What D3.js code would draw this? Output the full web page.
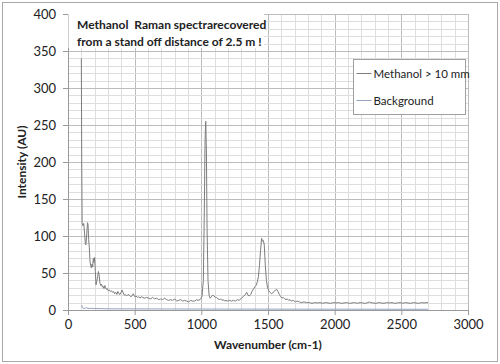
<!DOCTYPE html>
<html><head><meta charset="utf-8">
<script src="https://cdn.jsdelivr.net/npm/d3@7"></script>
<style>body{margin:0;background:#fff}svg{display:block}text{font-family:Lato,"Liberation Sans",sans-serif;fill:#222}</style>
</head><body><svg id="c" width="500" height="364"></svg>
<script>
const titleLines = ["Methanol  Raman spectrarecovered", "from a stand off distance of 2.5 m !"];
const xLabel = "Wavenumber (cm-1)";
const yLabel = "Intensity (AU)";
const seriesNames = ["Methanol > 10 mm", "Background"];
const xTicks = [0, 500, 1000, 1500, 2000, 2500, 3000];
const yTicks = [0, 50, 100, 150, 200, 250, 300, 350, 400];

const methanolX = [100,103,106,112,118,124,130,134,140,146,150,155,160,165,170,175,180,185,190,195,200,205,210,215,222,228,233,240,246,252,258,264,270,276,282,288,295,302,310,318,326,334,342,350,358,366,374,382,390,398,406,414,422,430,440,450,460,470,480,490,500,510,520,530,540,550,560,575,590,605,620,635,650,665,680,695,710,725,740,755,770,785,800,815,830,845,860,875,890,905,920,935,950,965,975,990,1005,1015,1022,1028,1033,1038,1043,1050,1058,1066,1075,1085,1095,1105,1115,1125,1135,1145,1155,1165,1175,1185,1195,1210,1225,1240,1255,1270,1285,1300,1315,1330,1340,1350,1360,1370,1380,1390,1400,1410,1420,1428,1436,1444,1452,1458,1465,1472,1480,1488,1496,1505,1515,1525,1535,1545,1555,1565,1575,1585,1595,1605,1615,1625,1635,1645,1655,1665,1675,1690,1705,1720,1735,1750,1770,1790,1810,1830,1850,1870,1890,1910,1930,1950,1970,1990,2010,2030,2050,2070,2090,2110,2130,2150,2170,2190,2210,2230,2250,2260,2270,2290,2310,2330,2350,2370,2390,2410,2430,2450,2470,2490,2510,2530,2550,2570,2590,2610,2630,2650,2670,2700];
const methanolY = [340,200,117,114,117,104,90,88,100,118,116,95,84,66,60,57,62,58,70,64,71,52,34,38,45,52,48,36,33,35,31,32,29,33,30,28,29,26,27,25,26,24,25,22,24,21,25,22,21,24,27,23,20,21,19,21,20,18,19,22,18,19,17,18,16,18,17,16,17,16,15,17,15,16,14,15,14,16,14,13,14,13,15,12,13,14,12,13,12,11,13,12,12,14,13,14,18,40,130,230,255,215,110,40,20,16,18,20,19,17,17,15,14,15,13,14,12,13,12,13,12,13,12,14,13,16,18,21,24,20,19,21,25,28,31,33,38,45,60,80,97,93,94,88,60,40,31,26,24,22,23,25,27,28,25,21,18,16,17,15,14,15,13,14,12,13,11,12,11,10,11,10,10,9,10,9.5,10,9,10,9.5,9,10,9.5,10,9,9.5,10,9,9.5,10,9,10,9.5,9,10,11,10,9.5,9,10,9.5,9,10,9.5,10,9,9.5,10,9,10,9.5,9,10,9.5,9,10,9.5,10];
const backgroundX = [100,104,108,114,120,130,140,150,170,200,250,300,400,500,700,1000,1300,1500,1800,2100,2400,2700];
const backgroundY = [5,6,3,2.5,2,2.5,3,2,2.2,2,1.8,1.6,1.5,1.5,1.4,1.3,1.2,1.2,1.1,1.1,1,1];

const svg = d3.select("#c");
const m = {l:68, t:14, r:32, b:54};
const W = 500 - m.l - m.r, H = 364 - m.t - m.b;
svg.append("rect").attr("x",2.5).attr("y",2.5).attr("width",495).attr("height",359).attr("fill","#fff").attr("stroke","#a8a8a8");
const g = svg.append("g").attr("transform",`translate(${m.l},${m.t})`);
const x = d3.scaleLinear().domain([0,3000]).range([0,W]);
const y = d3.scaleLinear().domain([0,400]).range([H,0]);

g.append("g").selectAll("line").data(d3.range(0,3001,100)).join("line")
  .attr("x1",d=>Math.round(x(d))+0.5).attr("x2",d=>Math.round(x(d))+0.5).attr("y1",0).attr("y2",H)
  .attr("stroke",d=>d%500===0?"#bcbcbc":"#dedede");
g.append("g").selectAll("line").data(d3.range(0,401,10)).join("line")
  .attr("y1",d=>Math.round(y(d))+0.5).attr("y2",d=>Math.round(y(d))+0.5).attr("x1",0).attr("x2",W)
  .attr("stroke",d=>d%50===0?"#bcbcbc":"#dedede");

const ya = g.append("g").call(d3.axisLeft(y).tickValues(yTicks).tickFormat(d3.format("d")).tickSize(5).tickPadding(7));
const xa = g.append("g").attr("transform",`translate(0,${H})`).call(d3.axisBottom(x).tickValues(xTicks).tickFormat(d3.format("d")).tickSize(5).tickPadding(5));
[ya,xa].forEach(a=>{a.select(".domain").attr("stroke","#9a9a9a");a.selectAll(".tick line").attr("stroke","#9a9a9a");
  a.selectAll("text").attr("font-size",13).attr("fill","#222").style("font-family","Lato,'Liberation Sans',sans-serif");});

g.append("rect").attr("x",0.5).attr("y",0).attr("width",x(1465)).attr("height",34).attr("fill","#fff");
titleLines.forEach((t,i)=>g.append("text").attr("x",9).attr("y",15+i*17).attr("font-size",12).attr("font-weight","bold").style("white-space","pre").text(t));

const line = d3.line().x(d=>x(d[0])).y(d=>y(d[1]));
g.append("path").datum(backgroundX.map((v,i)=>[v,backgroundY[i]])).attr("d",line).attr("fill","none").attr("stroke","#94a2c0").attr("stroke-width",1);
g.append("path").datum(methanolX.map((v,i)=>[v,methanolY[i]])).attr("d",line).attr("fill","none").attr("stroke","#7d7d7d").attr("stroke-width",1).attr("stroke-linejoin","round");

const lg = svg.append("g").attr("transform","translate(353.5,59.5)");
lg.append("rect").attr("width",112).attr("height",55).attr("fill","#fff").attr("stroke","#a0a0a0");
const cols = ["#7d7d7d","#94a2c0"];
seriesNames.forEach((s,i)=>{
  const yy = 14 + i*27;
  lg.append("line").attr("x1",3).attr("x2",18).attr("y1",yy).attr("y2",yy).attr("stroke",cols[i]);
  lg.append("text").attr("x",20).attr("y",yy+4).attr("font-size",11.5).text(s);
});

svg.append("text").attr("x",m.l+W/2).attr("y",349).attr("text-anchor","middle").attr("font-size",12).attr("font-weight","bold").text(xLabel);
svg.append("text").attr("transform","translate(26,162) rotate(-90)").attr("text-anchor","middle").attr("font-size",12).attr("font-weight","bold").text(yLabel);
</script></body></html>
